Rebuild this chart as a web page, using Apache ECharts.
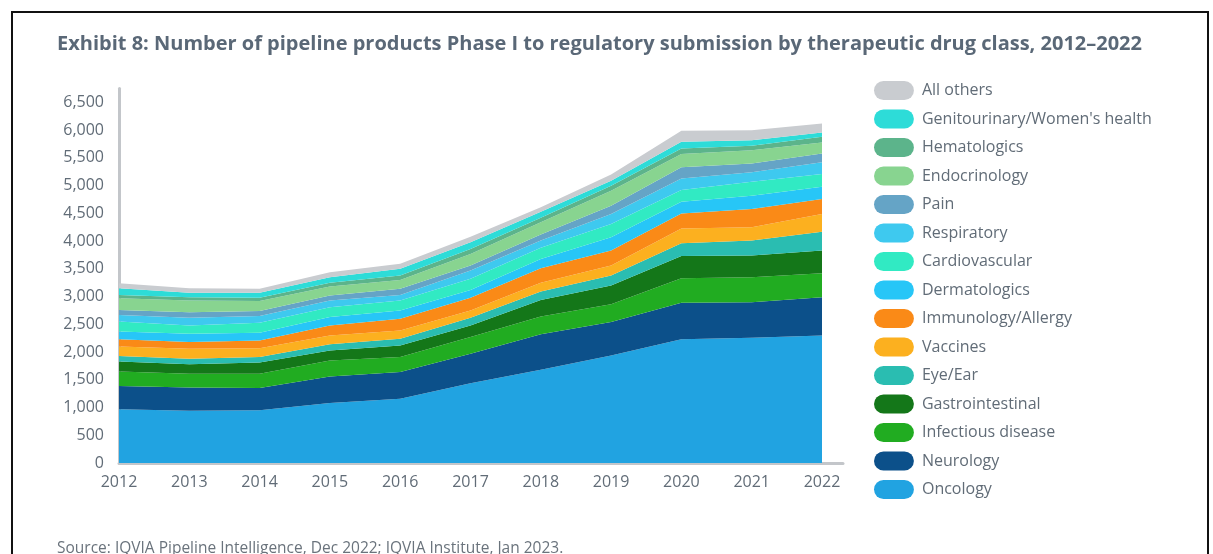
<!DOCTYPE html>
<html>
<head>
<meta charset="utf-8">
<script src="https://cdn.jsdelivr.net/npm/echarts@6/dist/echarts.min.js"></script>
<style>
  html, body { margin: 0; padding: 0; background: #fff; }
  #chart { position: absolute; left: 0; top: 0; width: 1213px; height: 554px; }
  #frame { position: absolute; left: 11px; top: 11px; width: 1194px; height: 600px;
           border: 2px solid #111; pointer-events: none; }
</style>
</head>
<body>
<div id="chart"></div>
<div id="frame"></div>
<script>
const years = ['2012', '2013', '2014', '2015', '2016', '2017', '2018', '2019', '2020', '2021', '2022'];

// stacked from the bottom up
const oncology      = [970, 940, 950, 1080, 1160, 1440, 1680, 1940, 2230, 2260, 2300];
const neurology     = [420, 420, 400, 480, 480, 530, 640, 600, 660, 640, 690];
const infectious    = [260, 250, 260, 290, 270, 300, 320, 320, 440, 450, 430];
const gastro        = [180, 170, 200, 180, 210, 210, 300, 340, 400, 390, 410];
const eyeEar        = [100, 100, 100, 110, 120, 140, 150, 180, 230, 270, 340];
const vaccines      = [170, 180, 160, 160, 150, 130, 160, 180, 270, 240, 320];
const immunology    = [130, 120, 140, 180, 210, 230, 260, 270, 270, 330, 270];
const dermatologics = [140, 150, 140, 150, 150, 140, 170, 240, 210, 240, 220];
const cardio        = [180, 150, 180, 180, 180, 200, 200, 240, 210, 250, 230];
const respiratory   = [120, 140, 120, 120, 100, 150, 130, 180, 210, 170, 210];
const pain          = [90, 100, 90, 90, 110, 90, 110, 150, 200, 160, 160];
const endocrinology = [210, 210, 180, 160, 160, 210, 220, 270, 240, 240, 200];
const hematologics  = [60, 60, 60, 70, 80, 90, 80, 90, 100, 80, 100];
const genitourinary = [120, 80, 90, 100, 120, 120, 110, 90, 120, 100, 80];
const allOthers     = [90, 80, 70, 90, 90, 100, 80, 110, 200, 180, 160];

const seriesDefs = [
  ['Oncology', oncology, '#21a3e1'],
  ['Neurology', neurology, '#0c508a'],
  ['Infectious disease', infectious, '#21ac21'],
  ['Gastrointestinal', gastro, '#147719'],
  ['Eye/Ear', eyeEar, '#2abdb1'],
  ['Vaccines', vaccines, '#fcb01f'],
  ['Immunology/Allergy', immunology, '#fa8a17'],
  ['Dermatologics', dermatologics, '#27c6f7'],
  ['Cardiovascular', cardio, '#31eac3'],
  ['Respiratory', respiratory, '#3ec9ef'],
  ['Pain', pain, '#65a4c6'],
  ['Endocrinology', endocrinology, '#88d490'],
  ['Hematologics', hematologics, '#5cb48b'],
  ["Genitourinary/Women's health", genitourinary, '#2ddcd8'],
  ['All others', allOthers, '#c9ccd0']
];

const textColor = '#616c77';
const axisColor = '#c3c6ca';
const pill = 'path://M10,0 L32,0 A10,10 0 0 1 32,20 L10,20 A10,10 0 0 1 10,0 Z';

const chart = echarts.init(document.getElementById('chart'));

const series = seriesDefs.map(([name, vals, color]) => ({
  name: name,
  type: 'line',
  stack: 'total',
  symbol: 'none',
  lineStyle: { width: 0 },
  itemStyle: { color: color },
  areaStyle: { color: color, opacity: 1 },
  data: vals
}));

// grid 1 only carries the longer bottom axis line
chart.setOption({
  animation: false,
  backgroundColor: '#ffffff',
  textStyle: { fontFamily: 'Open Sans' },
  title: [{
    text: 'Exhibit 8: Number of pipeline products Phase I to regulatory submission by therapeutic drug class, 2012–2022',
    left: 52, top: 29,
    textStyle: { fontFamily: 'Open Sans', fontSize: 20, fontWeight: 'bold', color: '#5a6877' }
  }, {
    text: 'Source: IQVIA Pipeline Intelligence, Dec 2022; IQVIA Institute, Jan 2023.',
    left: 52, top: 536,
    textStyle: { fontFamily: 'Open Sans', fontSize: 15.5, fontWeight: 'normal', color: '#6a737c' }
  }],
  legend: {
    orient: 'vertical',
    left: 869, top: 76,
    itemWidth: 42, itemHeight: 19, itemGap: 9.5,
    icon: pill,
    data: seriesDefs.map(d => d[0]).reverse(),
    textStyle: { fontFamily: 'Open Sans', fontSize: 16, color: textColor, padding: [0, 0, 0, 2] }
  },
  grid: [
    { left: 119, right: 391, top: 88.6, bottom: 91 },
    { left: 119, right: 370, top: 88.6, bottom: 91 }
  ],
  xAxis: [{
    type: 'category',
    gridIndex: 0,
    data: years,
    boundaryGap: false,
    axisLine: { show: false },
    axisTick: { show: false },
    axisLabel: { margin: 11, fontFamily: 'Open Sans', fontSize: 16, color: textColor }
  }, {
    type: 'value',
    gridIndex: 1,
    axisLine: { show: true, lineStyle: { color: axisColor, width: 3 } },
    axisTick: { show: false },
    axisLabel: { show: false },
    splitLine: { show: false }
  }],
  yAxis: [{
    type: 'value',
    gridIndex: 0,
    min: 0, max: 6750, interval: 500,
    axisLine: { show: true, lineStyle: { color: axisColor, width: 3 } },
    axisTick: { show: false },
    splitLine: { show: false },
    axisLabel: {
      showMaxLabel: false,
      margin: 15,
      fontFamily: 'Open Sans', fontSize: 16, color: textColor,
      formatter: v => v.toLocaleString('en-US')
    }
  }, {
    type: 'value',
    gridIndex: 1,
    show: false
  }],
  series: series
});
</script>
</body>
</html>
